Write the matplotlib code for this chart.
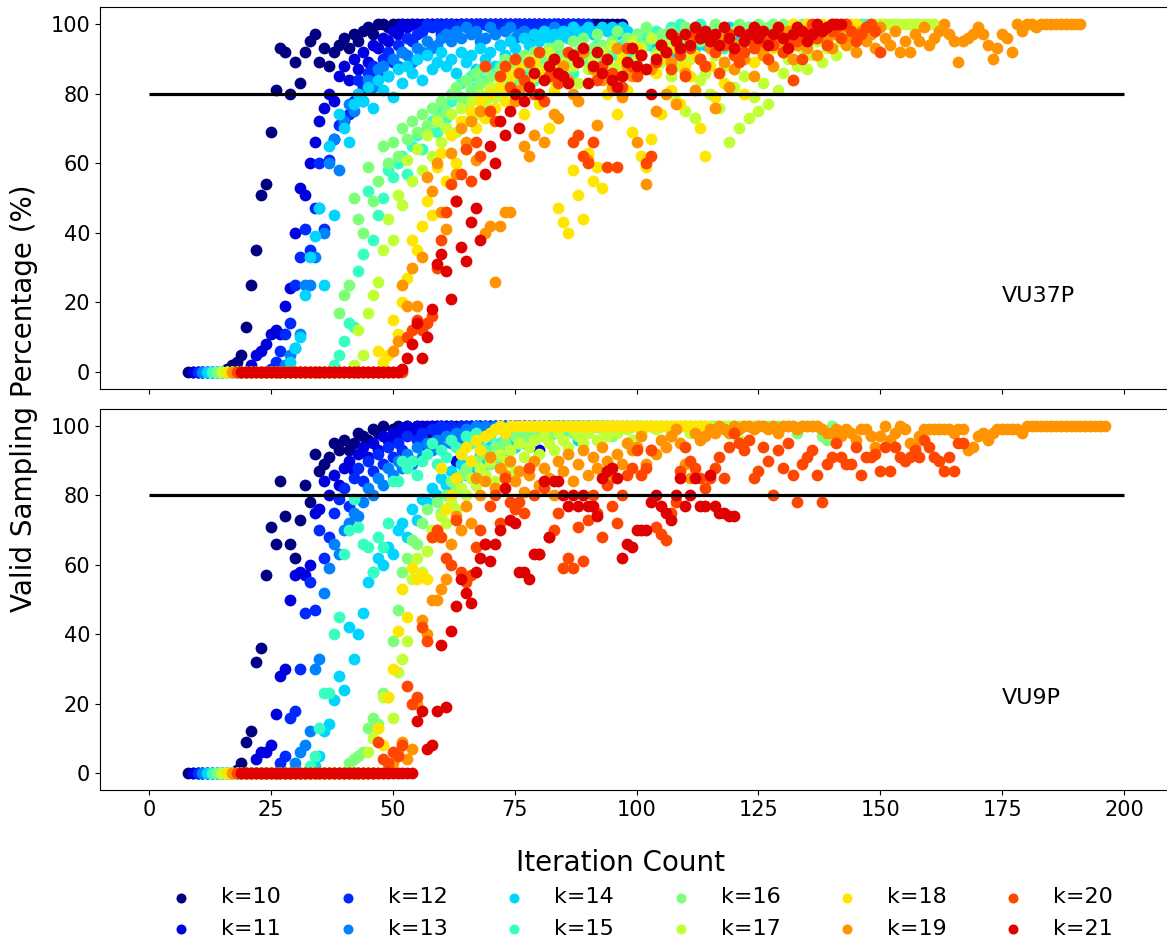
import matplotlib
matplotlib.use("Agg")
import matplotlib.pyplot as plt
import numpy as np

# ---------------- data ----------------
k_values = [10, 11, 12, 13, 14, 15, 16, 17, 18, 19, 20, 21]
start_iter = [8, 9, 10, 11, 12, 13, 14, 15, 16, 17, 18, 19]
panel_names = ["VU37P", "VU9P"]
threshold = 80

# VU37P (top panel): valid sampling % per iteration, starting at start_iter
vu37p_k10 = ([0]*8 + [1, 2, 3, 5, 13, 25, 35, 51, 54, 69, 81, 93, 92, 80, 89, 83, 92, 95, 97, 89, 93]
             + [88, 92, 94, 96, 93, 97, 95, 98, 99, 97, 100, 100, 99, 100]
             + [100]*12 + [99] + [100]*18 + [98] + [100]*15)
vu37p_k11 = ([0]*12 + [2, 5, 6, 8, 11, 12, 11, 19, 24, 40, 53, 51, 60, 66, 72, 76, 80, 78, 85, 88,
                       84, 90, 87, 92, 89, 94, 93, 96, 95, 98]
             + [97, 100, 99, 100, 100, 98] + [100]*32)
vu37p_k12 = ([0]*15 + [1, 3, 6, 11, 14, 25, 33, 41, 35, 47, 60, 41, 61, 67, 71, 72, 74, 78, 84, 82,
                       86, 88, 85, 90, 92, 89, 94, 92, 96, 95, 97]
             + [98, 100, 99, 100, 97, 100, 100, 99] + [100]*27)
vu37p_k13 = ([0]*17 + [2, 5, 7, 11, 25, 25, 33, 47, 40, 60, 67, 58, 72, 77, 75, 80, 78, 84, 82, 87,
                       88, 85, 90, 88, 92, 91, 89, 93, 92, 95, 93, 94, 96]
             + [97, 95, 98, 96, 99, 97, 98, 95, 96, 99, 97, 94, 98, 99, 96, 97, 98, 95, 97, 96,
                98, 97, 99, 96, 98, 97, 99, 98, 97])
vu37p_k14 = ([0]*17 + [3, 7, 10, 22, 33, 39, 47, 25, 65, 45, 74, 70, 66, 77, 80, 78, 82, 76, 84, 81,
                       85, 79, 87, 83, 88, 86, 90, 84, 91, 87, 89, 92]
             + [88, 90, 86, 92, 89, 91, 87, 93, 90, 92, 88, 94, 91, 95, 93, 90, 96, 94, 97, 95,
                98, 96, 97, 95, 98, 96, 99, 97, 98, 99, 97, 98, 99, 98, 99, 97, 99, 98, 96, 97,
                95, 96, 94, 97, 93, 95, 92, 96, 94, 97, 95, 93, 96, 94, 98, 96, 95, 97, 99, 96,
                98, 97, 99, 98, 96, 92, 95])
vu37p_k15 = ([0]*25 + [2, 5, 9, 14, 13, 29, 34, 52, 38, 45, 50, 58, 56, 60, 62, 57, 65, 68, 64, 70,
                       72, 69, 75, 73, 78]
             + [80, 83, 78, 85, 82, 87, 84, 80, 86, 88, 83, 89, 85, 87, 90, 86, 84, 88, 91, 87,
                89, 92, 88, 90, 86, 91, 93, 89, 92, 94, 90, 93, 95, 91, 94, 96, 92, 95, 97, 94,
                96, 98, 95, 97, 99, 98, 100, 99, 97, 98, 100, 96, 98, 95, 97, 93, 96, 94, 98, 95,
                97, 99, 96, 98, 97, 99, 95, 98, 96, 99, 97, 98, 100, 97, 99, 96, 98, 100, 99, 97,
                100, 98, 99, 100, 100, 100])
vu37p_k16 = ([0]*25 + [17, 22, 25, 50, 44, 40, 59, 49, 55, 65, 60, 66, 62, 70, 67, 72, 69, 74, 71, 76,
                       73, 78, 75, 80]
             + [82, 79, 84, 81, 86, 83, 88, 85, 80, 87, 90, 86, 89, 84, 91, 88, 92, 87, 90, 93,
                89, 94, 91, 88, 95, 92, 96, 90, 93, 97, 94, 91, 95, 98, 92, 96, 93, 97, 94, 99,
                96, 92, 97, 95, 98, 93, 96, 99, 94, 97, 95, 98, 96, 100, 97, 99, 95, 98, 100, 96,
                99, 97, 100, 98, 99, 100, 97, 100, 99, 100, 98, 100, 100])
vu37p_k17 = ([0]*27 + [2, 12, 5, 17, 22, 26, 35, 44, 38, 51, 48, 61, 55, 64, 58, 68, 62, 72, 66, 70,
                       74, 69, 76, 72, 78, 74, 80, 77, 82]
             + [79, 84, 81, 86, 78, 88, 83, 90, 85, 80, 87, 92, 84, 89, 86, 91, 88, 83, 93, 87,
                90, 85, 92, 89, 94, 88, 91, 86, 95, 90, 93, 87, 96, 91, 89, 94, 85, 78, 88, 75,
                90, 73, 84, 86, 80, 91, 76, 88, 66, 82, 70, 85, 73, 79, 75, 83, 77, 88, 81, 86,
                90, 84, 88, 93, 87, 91, 95, 89, 93, 97, 91, 95, 98, 94, 96, 99, 97, 98, 100, 100]
             + [100]*11)
vu37p_k18 = ([0]*31 + [6, 3, 5, 15, 11, 20, 27, 38, 35, 42, 49, 45, 59, 63, 55, 68, 60, 72, 64, 75,
                       70, 78, 73, 80]
             + [76, 82, 78, 85, 80, 87, 74, 83, 89, 77, 86, 70, 81, 47, 43, 40, 58, 51, 44, 63,
                55, 59, 53, 80, 85, 74, 90, 81, 69, 93, 62, 59, 67, 86, 74, 90, 81, 93, 77, 88,
                85, 91, 70, 62, 88, 79, 94, 83, 96, 87, 92, 80, 95, 89, 98, 91, 96, 93, 99, 95,
                97, 100, 98, 96, 100, 99, 97, 100, 98, 100, 100, 99, 100, 100, 100])
vu37p_k19 = ([0]*33 + [6, 9, 25, 19, 30, 19, 33, 56, 52, 60, 46, 41, 63, 57, 70, 66, 72, 61, 75, 40,
                       42, 26, 42, 46, 46, 78, 81]
             + [65, 62, 68, 80, 66, 85, 74, 73, 88, 84, 80, 78, 92, 61, 87, 71, 84, 90, 82, 93,
                79, 88, 85, 66, 91, 54, 87, 75, 94, 80, 89, 77, 92, 86, 95, 81, 90, 88, 93, 76,
                96, 89, 82, 87, 94, 90, 97, 85, 93, 91, 96, 88, 95, 92, 98, 90, 94, 97, 93, 96,
                91, 98, 95, 93, 97, 99, 94, 96, 92, 98, 95, 97, 93, 99, 96, 94, 98, 92, 95, 92,
                97, 95, 99, 94, 96, 98, 100, 97, 95, 89, 95, 96, 97, 99, 97, 94, 90, 93, 97, 96,
                92, 100, 98, 100, 100, 99] + [100]*9)
vu37p_k20 = ([0]*35 + [10, 12, 15, 12, 14, 16, 30, 38, 46, 54, 49, 57, 64, 55, 66, 62, 88, 75, 72, 85,
                       88, 82, 90, 86, 84, 89, 80, 92, 78, 85, 90, 83, 84, 92, 66, 68, 62, 60, 66, 84,
                       88, 59, 86, 59, 82, 93, 88, 85, 91, 60, 62, 89, 94, 92, 87, 96, 91, 85, 93, 97,
                       90, 88, 95, 92, 86, 94, 97, 91, 89, 92, 96, 93, 98, 95, 90, 94, 97, 92, 96, 84,
                       95, 90, 97, 100, 96, 98, 94, 98, 99, 96, 100, 98, 95, 97, 99, 100, 98, 92])
vu37p_k21 = ([0]*33 + [1, 4, 8, 14, 4, 10, 18, 31, 34, 29, 21, 49, 36, 32, 43, 47, 38, 57, 65, 60,
                       72, 68, 75, 80, 70, 78, 82, 86, 80, 84]
             + [88, 90, 86, 85, 83, 91, 89, 93, 83, 88, 92, 86, 90, 84, 82, 85, 89, 93, 88, 91,
                87, 80, 90, 94, 92, 97, 95, 93, 97, 94, 99]
             + [96, 98, 95, 97, 94, 99, 96, 93, 98, 95, 97, 99, 96, 98, 94, 97, 99, 96, 93, 97,
                99, 98, 95, 97, 100, 98, 99, 100, 100, 100])

# VU9P (bottom panel)
vu9p_k10 = ([0]*10 + [1, 3, 9, 12, 32, 36, 57, 71, 66, 84, 74, 66, 62, 73, 83, 78, 92, 87, 89, 91,
                      95, 93, 96]
            + [93, 95, 98, 97, 96, 99, 98, 100, 96, 99, 100, 98, 100, 99, 100, 100, 97, 100, 100, 100]
            + [100]*28)
vu9p_k11 = ([0]*13 + [4, 6, 6, 8, 17, 28, 30, 50, 57, 58, 57, 60, 75, 76, 84, 80, 86, 83, 88, 90,
                      87, 92, 94, 91]
            + [95, 93, 97, 96, 98, 97, 99, 100, 98, 100, 99, 100, 100, 100, 100]
            + [100]*2 + [90] + [100]*16 + [93] + [100]*10)
vu9p_k12 = ([0]*17 + [3, 5, 16, 18, 30, 46, 55, 47, 70, 62, 68, 75, 79, 82, 77, 85, 88, 84, 90]
            + [87, 92, 89, 94, 91, 95, 93, 97, 90, 96, 98, 94, 99, 97, 100, 98, 100, 99, 100, 100]
            + [100]*30)
vu9p_k13 = ([0]*19 + [3, 6, 8, 12, 30, 33, 52, 59, 66, 63, 70, 72, 75, 74, 78, 82, 80, 85]
            + [83, 88, 86, 90, 88, 92, 89, 94, 91, 95, 93, 96, 94, 97, 95, 98, 96, 99, 97, 100,
               98, 100, 99] + [100]*30)
vu9p_k14 = ([0]*22 + [2, 5, 12, 14, 21, 28, 24, 42, 33, 40, 46, 55, 58, 62, 60, 65, 63, 70, 72, 68,
                      76, 73, 79]
            + [78, 82, 80, 85, 83, 87, 84, 89, 86, 90, 88, 92, 89, 94, 91, 95, 93, 96, 94, 97,
               95, 98, 96, 99, 97, 100, 98, 100, 99, 100, 100, 96, 100, 100, 100, 100, 100, 100, 100])
vu9p_k15 = ([0]*20 + [2, 5, 13, 23, 23, 40, 45, 63, 70, 79, 71, 66, 65, 58, 68, 65, 72, 84]
            + [84, 90, 88, 90, 86, 90, 92, 95, 89, 93, 91, 96, 94, 92, 97, 95, 98, 96, 93, 97,
               99, 95, 98, 100, 97, 99, 96, 100, 98, 100, 99, 97, 100, 100, 98, 100, 100, 99]
            + [100]*17)
vu9p_k16 = ([0]*27 + [3, 4, 5, 6, 13, 16, 14, 23, 22, 38, 47, 58, 62, 67, 66, 72, 76, 70, 78, 75]
            + [80, 84, 82, 86, 88, 85, 90, 87, 92, 89, 94, 91, 95, 93, 97, 95, 98, 96, 99, 97,
               100, 98, 100, 99, 100, 100, 98, 100, 100, 99, 100, 100, 100, 100, 97]
            + [100]*12 + [99] + [100]*24 + [98] + [100]*4 + [97, 96, 100])
vu9p_k17 = ([0]*30 + [6, 10, 13, 22, 22, 16, 29, 33, 38, 56, 62, 58, 64, 70, 68, 74]
            + [72, 78, 76, 82, 80, 85, 83, 88, 86, 90, 84, 92, 89, 93, 87, 95, 91, 94, 96, 92,
               97, 95, 93, 98, 96, 94, 99, 97, 95, 98, 100, 96, 99, 97, 100, 98, 100, 99, 96, 100,
               98, 100, 100, 99, 100, 100, 97, 100, 100, 100, 98, 100, 100, 100, 100, 99, 100, 100,
               100, 100, 96, 100, 100, 100, 100])
vu9p_k18 = ([0]*31 + [13, 8, 22, 30, 41, 53, 45, 59, 56, 57, 56, 68, 70, 88, 76, 80, 85, 92, 94, 90,
                      96, 93, 97, 98, 99, 100, 98, 100, 100, 100]
            + [100]*38)
vu9p_k19 = ([0]*33 + [3, 6, 9, 4, 7, 20, 44, 40, 50, 50, 53, 56, 66, 74, 70, 77, 72, 85, 80, 84,
                      91, 82, 88, 86, 90, 84, 87, 81, 86, 90, 83, 88, 85, 80, 90, 87, 92, 84, 89, 93,
                      86, 91, 88, 94, 90, 85, 92, 89, 95, 93, 94, 97, 89, 93, 92, 96, 94, 97, 99, 95,
                      89, 85, 98, 96, 97, 99, 98, 100, 99, 98, 100, 99, 100, 100, 99, 100, 100, 99, 100, 98,
                      100, 100, 100, 99, 100, 100, 100, 100, 99, 98, 98, 99, 97, 99, 98, 96, 99, 99, 97, 94,
                      97, 100, 96, 98, 100, 99, 95, 94, 97, 99, 99, 99, 99, 99, 99, 98, 99, 99, 93, 94,
                      97, 98, 96, 98, 99, 99, 99, 99, 99, 98]
            + [100]*17)
vu9p_k20 = ([0]*29 + [9, 4, 3, 6, 5, 8, 25, 20, 22, 42, 38, 68, 70, 68, 62, 60, 73, 58, 55, 57,
                      65, 70, 66, 77, 80, 72, 85, 78, 76, 78, 75, 88, 80, 63, 82, 68, 70, 75, 59, 62,
                      59, 71, 61, 73, 80, 75, 68, 83, 77, 72, 80, 86, 88, 93, 86, 88, 93, 71, 69, 67,
                      75, 78, 87, 94, 90, 88, 85, 82, 85, 88, 91, 85, 94, 98, 95, 93, 96, 85, 87, 94,
                      90, 80, 93, 88, 95, 86, 78, 89, 91, 93, 86, 78, 89, 91, 95, 91, 89, 89, 94, 86,
                      91, 91, 92, 87, 94, 87, 94, 91, 90, 91, 93, 91, 96, 94, 91, 90, 87, 91, 87, 95, 95])
vu9p_k21 = ([0]*36 + [15, 18, 7, 8, 18, 37, 19, 41, 48, 56, 52, 49, 58, 62, 66, 61, 66, 70, 82, 73,
                      72, 58, 58, 56, 63, 63, 84, 68, 84, 84, 80, 77, 80, 77, 80, 77, 77, 74, 85, 87,
                      88, 85, 62, 66, 65, 70, 70, 70, 78, 80, 77, 75, 73, 80, 85, 77, 80, 85, 77, 77,
                      86, 77, 75, 75, 74, 74])

vu37p_series = [vu37p_k10, vu37p_k11, vu37p_k12, vu37p_k13, vu37p_k14, vu37p_k15,
                vu37p_k16, vu37p_k17, vu37p_k18, vu37p_k19, vu37p_k20, vu37p_k21]
vu9p_series = [vu9p_k10, vu9p_k11, vu9p_k12, vu9p_k13, vu9p_k14, vu9p_k15,
               vu9p_k16, vu9p_k17, vu9p_k18, vu9p_k19, vu9p_k20, vu9p_k21]

# ---------------- figure ----------------
W, H = 1167, 943
fig = plt.figure(figsize=(W / 100, H / 100), dpi=100)
ax1 = fig.add_axes([100 / W, 1 - 389.4 / H, 1073 / W, (389.4 - 6.6) / H])
ax2 = fig.add_axes([100 / W, 1 - 790.4 / H, 1073 / W, (790.4 - 408.6) / H], sharex=ax1)

cmap = plt.get_cmap("jet")
colors = [cmap(i / 12) for i in range(len(k_values))]

handles = []
for ax, series, name in [(ax1, vu37p_series, panel_names[0]), (ax2, vu9p_series, panel_names[1])]:
    for i, (k, ys) in enumerate(zip(k_values, series)):
        xs = start_iter[i] + np.arange(len(ys))
        h = ax.scatter(xs, ys, s=72, color=colors[i], linewidths=0, label=f"k={k}", zorder=2)
        if ax is ax2:
            handles.append(h)
    ax.hlines(threshold, 0, 200, colors="black", linewidth=2.3, zorder=3)
    ax.text(175, 20, name, fontsize=16)
    ax.set_xlim(-10, 210)
    ax.set_ylim(-5, 105)
    ax.set_yticks([0, 20, 40, 60, 80, 100])
    ax.tick_params(labelsize=15)

ax1.set_xticks([0, 25, 50, 75, 100, 125, 150, 175, 200])
ax1.tick_params(labelbottom=False)

fig.text(24 / W, 1 - 398 / H, "Valid Sampling Percentage (%)", rotation=90,
         ha="center", va="center", fontsize=20)
fig.text(620 / W, 1 - 863 / H, "Iteration Count", ha="center", va="center", fontsize=20)

fig.legend(handles, [f"k={k}" for k in k_values], loc="center",
           bbox_to_anchor=(636 / W, 1 - 913 / H), ncol=6, frameon=False, fontsize=16,
           markerscale=0.85)

fig.savefig("out.png", dpi=100)
